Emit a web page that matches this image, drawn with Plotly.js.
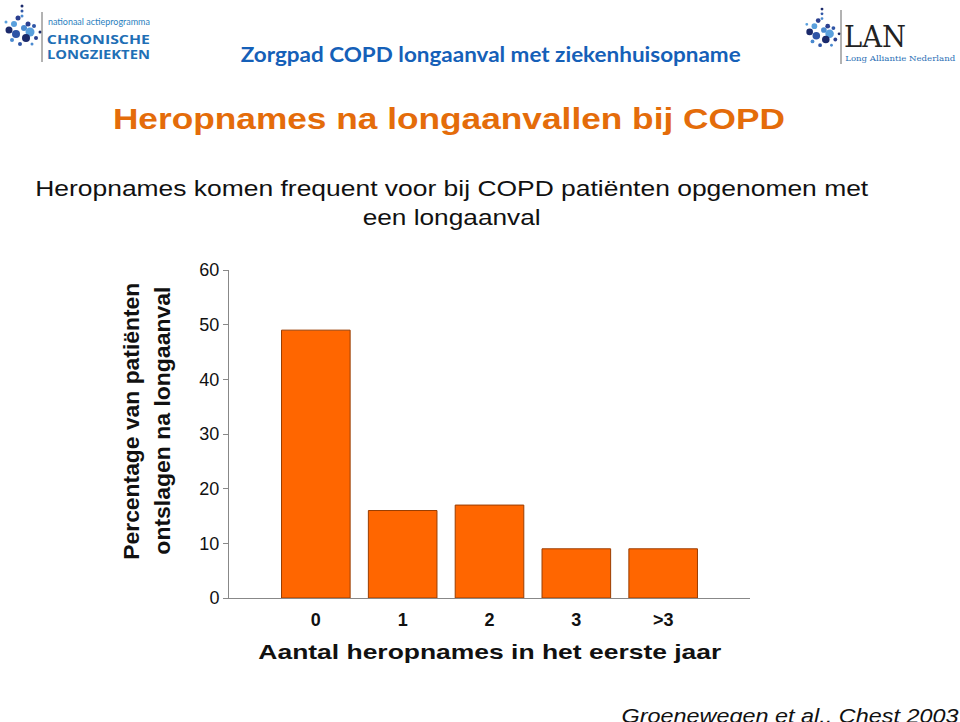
<!DOCTYPE html>
<html>
<head>
<meta charset="utf-8">
<script src="https://cdn.plot.ly/plotly-3.0.1.min.js"></script>
<style>html,body{margin:0;padding:0;background:#fff;}#chart{width:960px;height:722px;}</style>
</head>
<body>
<div id="chart"></div>
<script>
const categories = ["0", "1", "2", "3", ">3"];
const percentages = [49, 16, 17, 9, 9];
const yTicks = [0, 10, 20, 30, 40, 50, 60];

const W = 960, H = 722;
const L = 229, R = 750, T = 270, B = 598;
function px(x) { return (x - L) / (R - L); }
function py(y) { return (B - y) / (B - T); }

const trace = {
  type: "bar",
  x: [0, 1, 2, 3, 4],
  y: percentages,
  width: 0.79,
  marker: { color: "#FF6600", line: { color: "#9a3d00", width: 1 } },
  hoverinfo: "skip"
};

const shapes = [];
function logo(cx, cy, s) {
  const pts = [[0,-22,1.5],[0,-17,1.5],[0,-12,1.5],[-4,-10,2.5],[-8,-4,3],[-13,2,3.5],[-6,6,4],[2,0,3],[6,-4,2.5],[8,4,4.5],[4,10,4],[12,-2,2],[-10,12,2],[14,10,2],[-16,-6,1.5],[18,4,1.5],[-2,16,2],[10,16,1.5]];
  const cols = ["#1b2a6b","#2f55a6","#4a8ad0","#2b3f8f","#5aa0dd"];
  pts.forEach((p, i) => {
    shapes.push({ type: "circle", xref: "paper", yref: "paper",
      x0: px(cx + p[0]*s - p[2]*s), x1: px(cx + p[0]*s + p[2]*s),
      y0: py(cy + p[1]*s + p[2]*s), y1: py(cy + p[1]*s - p[2]*s),
      fillcolor: cols[i % cols.length], line: { width: 0 } });
  });
}
logo(22, 28, 1.0);
logo(822, 30, 0.95);
shapes.push({ type: "line", xref: "paper", yref: "paper", x0: px(42), x1: px(42), y0: py(12), y1: py(62), line: { color: "#666", width: 1 } });
shapes.push({ type: "line", xref: "paper", yref: "paper", x0: px(841), x1: px(841), y0: py(10), y1: py(64), line: { color: "#666", width: 1 } });

// target widths (px) of texts, to match the horizontally stretched reference slide
const stretch = {};
function ann(text, x, y, width, opts) {
  if (width) stretch[text] = width;
  return Object.assign({ text: text, xref: "paper", yref: "paper", x: px(x), y: py(y), showarrow: false,
    xanchor: "center", yanchor: "middle" }, opts || {});
}
const ARIAL = "'Liberation Sans', Arial, sans-serif";

const annotations = [
  ann("Zorgpad COPD longaanval met ziekenhuisopname", 490, 53, 500, { font: { family: "Lato, 'Open Sans', sans-serif", size: 21, color: "#1560b8", weight: "bold" } }),
  ann("Heropnames na longaanvallen bij COPD", 449, 118, 672, { font: { family: ARIAL, size: 30, color: "#E46C0A", weight: "bold" } }),
  ann("Heropnames komen frequent voor bij COPD patiënten opgenomen met", 451.5, 188, 833, { font: { family: ARIAL, size: 22, color: "#111" } }),
  ann("een longaanval", 451, 217, 178, { font: { family: ARIAL, size: 22, color: "#111" } }),
  ann("Percentage van patiënten", 131, 421.5, 277, { textangle: -90, font: { family: ARIAL, size: 22, color: "#111", weight: "bold" } }),
  ann("ontslagen na longaanval", 162, 421, 268, { textangle: -90, font: { family: ARIAL, size: 22, color: "#111", weight: "bold" } }),
  ann("Aantal heropnames in het eerste jaar", 489.5, 651, 463, { font: { family: ARIAL, size: 21, color: "#111", weight: "bold" } }),
  ann("Groenewegen et al., Chest 2003", 789.5, 716, 337, { font: { family: ARIAL, size: 20, color: "#111", style: "italic" } }),
  ann("nationaal actieprogramma", 99, 21, 102, { font: { family: "Lato, sans-serif", size: 10, color: "#2a7fc0" } }),
  ann("CHRONISCHE", 98.5, 39, 103, { font: { family: "'Open Sans', sans-serif", size: 13, color: "#1f6fb5", weight: "bold" } }),
  ann("LONGZIEKTEN", 98.5, 54, 103, { font: { family: "'Open Sans', sans-serif", size: 13, color: "#1f6fb5", weight: "bold" } }),
  ann("LAN", 875, 36, 62, { font: { family: "'DejaVu Serif', serif", size: 30, color: "#222" } }),
  ann("Long Alliantie Nederland", 900, 58, 110, { font: { family: "'DejaVu Serif', serif", size: 8, color: "#2a6fb5" } })
];

const layout = {
  width: W, height: H,
  margin: { l: L, r: W - R, t: T, b: H - B, pad: 0 },
  paper_bgcolor: "#fff", plot_bgcolor: "#fff",
  showlegend: false,
  xaxis: {
    range: [-1, 5], tickvals: [0, 1, 2, 3, 4], ticktext: categories,
    showline: true, linecolor: "#888", linewidth: 1, showgrid: false, zeroline: false,
    ticks: "", ticklabelstandoff: 5,
    tickfont: { family: ARIAL, size: 18, color: "#111", weight: "bold" },
    fixedrange: true
  },
  yaxis: {
    range: [0, 60], tickvals: yTicks, showline: true, linecolor: "#888", linewidth: 1,
    showgrid: false, zeroline: false, ticks: "outside", ticklen: 5, tickcolor: "#888",
    tickfont: { family: ARIAL, size: 18, color: "#111" },
    fixedrange: true
  },
  shapes: shapes,
  annotations: annotations
};

Plotly.newPlot("chart", [trace], layout, { displayModeBar: false, staticPlot: true }).then(function () {
  document.querySelectorAll("#chart .annotation-text").forEach(function (el) {
    const w = stretch[el.textContent];
    if (w) {
      el.setAttribute("textLength", w);
      el.setAttribute("lengthAdjust", "spacingAndGlyphs");
    }
  });
});
</script>
</body>
</html>
